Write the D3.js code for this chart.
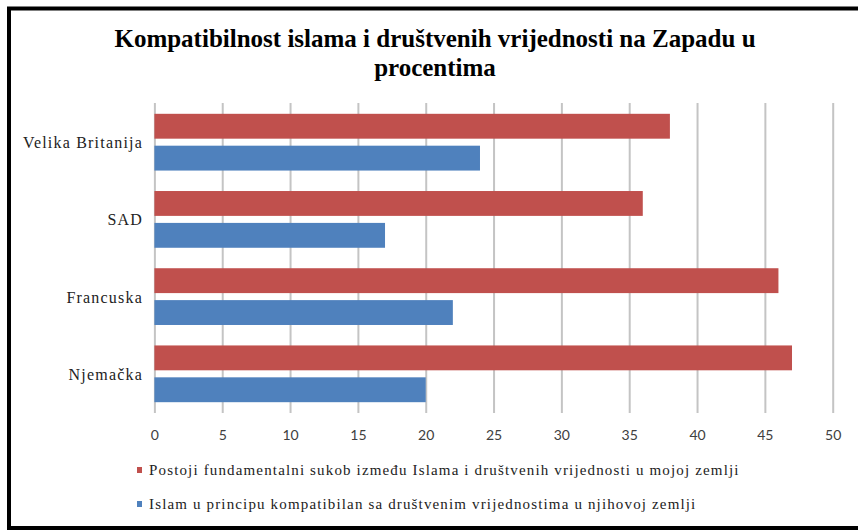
<!DOCTYPE html>
<html>
<head>
<meta charset="utf-8">
<script src="https://cdn.jsdelivr.net/npm/d3@7"></script>
<style>
  body { margin: 0; background: #fff; }
  svg { display: block; }
</style>
</head>
<body>
<div id="chart"></div>
<script>
// Data
let countries = ['Velika Britanija', 'SAD', 'Francuska', 'Njemačka'];
let conflictValues = [38, 36, 46, 47];
let compatibleValues = [24, 17, 22, 20];
let seriesNames = [
  'Postoji fundamentalni sukob između Islama i društvenih vrijednosti u mojoj zemlji',
  'Islam u principu kompatibilan sa društvenim vrijednostima u njihovoj zemlji'
];
let seriesColors = ['#c0504d', '#4f81bd'];
let xTicks = [0, 5, 10, 15, 20, 25, 30, 35, 40, 45, 50];
let titleLines = ['Kompatibilnost islama i društvenih vrijednosti na Zapadu u', 'procentima'];

// SVG setup
let svgWidth = 858;
let svgHeight = 530;

let plot = { left: 154.4, right: 832.7, top: 103, bottom: 413 };

let svg = d3.select('#chart')
  .append('svg')
  .attr('width', svgWidth)
  .attr('height', svgHeight);

// Frame (top, left, bottom edges)
svg.append('line')
  .attr('x1', 7).attr('x2', svgWidth)
  .attr('y1', 8.5).attr('y2', 8.5)
  .attr('stroke', '#000').attr('stroke-width', 4);
svg.append('line')
  .attr('x1', 9).attr('x2', 9)
  .attr('y1', 7).attr('y2', svgHeight)
  .attr('stroke', '#000').attr('stroke-width', 4);
svg.append('line')
  .attr('x1', 7).attr('x2', svgWidth)
  .attr('y1', 528).attr('y2', 528)
  .attr('stroke', '#000').attr('stroke-width', 4);

// Title
svg.append('g')
  .selectAll('text')
  .data(titleLines)
  .enter()
  .append('text')
  .attr('x', 435)
  .attr('y', (d, i) => 47 + i * 29)
  .attr('text-anchor', 'middle')
  .attr('font-family', '"Liberation Serif", "Times New Roman", serif')
  .attr('font-weight', 'bold')
  .attr('font-size', '25px')
  .attr('fill', '#000')
  .text(d => d);

// Scales
let xScale = d3.scaleLinear()
  .domain([0, 50])
  .range([plot.left, plot.right]);

let yScale = d3.scaleBand()
  .domain(countries)
  .range([plot.top, plot.bottom])
  .paddingInner(0.265)
  .paddingOuter(0.14);

let ySub = d3.scaleBand()
  .domain([0, 1])
  .range([0, yScale.bandwidth()])
  .paddingInner(0.22);

// Gridlines + tick labels
let bottomAxis = d3.axisBottom(xScale)
  .tickValues(xTicks)
  .tickSizeInner(-(plot.bottom - plot.top))
  .tickSizeOuter(0)
  .tickPadding(17);

let xAxis = svg.append('g')
  .attr('transform', `translate(0, ${plot.bottom})`)
  .call(bottomAxis);

xAxis.select('.domain').remove();
xAxis.selectAll('line')
  .attr('stroke', '#c4c4c4')
  .attr('stroke-width', 2);
xAxis.selectAll('text')
  .attr('font-family', 'Lato, "Open Sans", sans-serif')
  .attr('font-size', '14px')
  .attr('fill', '#404040');

// Bars
let seriesData = [conflictValues, compatibleValues];
seriesData.forEach(function(values, s) {
  svg.append('g')
    .selectAll('rect')
    .data(values)
    .enter()
    .append('rect')
    .attr('x', xScale(0))
    .attr('y', (d, i) => yScale(countries[i]) + ySub(s))
    .attr('width', d => xScale(d) - xScale(0))
    .attr('height', ySub.bandwidth())
    .attr('fill', seriesColors[s]);
});

// Category labels
svg.append('g')
  .selectAll('text')
  .data(countries)
  .enter()
  .append('text')
  .attr('x', 143)
  .attr('y', d => yScale(d) + yScale.bandwidth() / 2 + 0.5)
  .attr('dy', '0.35em')
  .attr('text-anchor', 'end')
  .attr('letter-spacing', '1.2px')
  .attr('font-family', '"Liberation Serif", "Times New Roman", serif')
  .attr('font-size', '16px')
  .attr('fill', '#222')
  .text(d => d);

// Legend
let legend = svg.append('g')
  .selectAll('g')
  .data(seriesNames)
  .enter()
  .append('g')
  .attr('transform', (d, i) => `translate(137, ${470 + i * 34})`);

legend.append('rect')
  .attr('x', 0)
  .attr('y', -3)
  .attr('width', 5)
  .attr('height', 6)
  .attr('fill', (d, i) => seriesColors[i]);

legend.append('text')
  .attr('x', 12)
  .attr('y', 0)
  .attr('dy', '0.35em')
  .attr('letter-spacing', '1.15px')
  .attr('font-family', '"Liberation Serif", "Times New Roman", serif')
  .attr('font-size', '15px')
  .attr('fill', '#222')
  .text(d => d);
</script>
</body>
</html>
